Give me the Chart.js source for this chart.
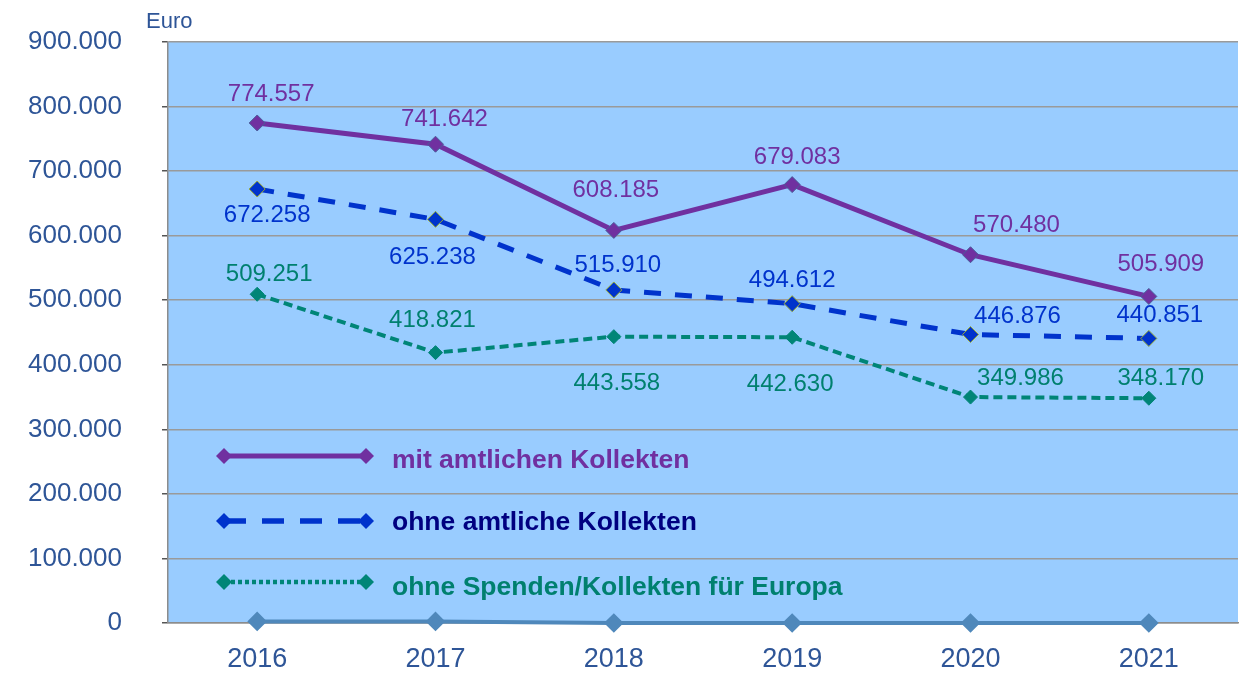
<!DOCTYPE html>
<html>
<head>
<meta charset="utf-8">
<script src="https://cdn.jsdelivr.net/npm/chart.js@4/dist/chart.umd.min.js"></script>
<style>
  html, body { margin: 0; padding: 0; background: #fff; }
  #wrap { width: 1249px; height: 673px; }
</style>
</head>
<body>
<div id="wrap"><canvas id="kollektenChart" width="1249" height="673"></canvas></div>
<script>
// values
const years = ['2016', '2017', '2018', '2019', '2020', '2021'];
const mitAmtlichen = [774557, 741642, 608185, 679083, 570480, 505909];
const ohneAmtliche = [672258, 625238, 515910, 494612, 446876, 440851];
const ohneEuropa = [509251, 418821, 443558, 442630, 349986, 348170];
const baseline = [2500, 2500, 0, 0, 0, 0];
const yTicks = [0, 100000, 200000, 300000, 400000, 500000, 600000, 700000, 800000, 900000];

const tickBlue = '#2E5597';

// 774557 -> "774.557"
const fmt = (v) => String(v).replace(/\B(?=(\d{3})+(?!\d))/g, '.');

// where each value label sits relative to its point [dx, dy]
const purpleLabelPos = [[14, -29], [9, -25], [2, -40], [5, -27], [46, -29], [12, -32]];
const blueLabelPos = [[10, 26], [-3, 38], [4, -25], [0, -23], [47, -18], [11, -23]];
const tealLabelPos = [[12, -20], [-3, -32], [3, 47], [-2, 47], [50, -19], [12, -20]];

const plotBg = {
  id: 'plotBg',
  beforeDraw(chart) {
    const { ctx, chartArea: a } = chart;
    ctx.save();
    ctx.fillStyle = '#99CCFF';
    ctx.fillRect(a.left, a.top, a.right - a.left, a.bottom - a.top);
    ctx.restore();
  },
};

const valueLabels = {
  id: 'valueLabels',
  afterDatasetsDraw(chart) {
    const { ctx } = chart;
    ctx.save();
    ctx.font = '24px "Liberation Sans", Arial, sans-serif';
    ctx.textAlign = 'center';
    ctx.textBaseline = 'middle';
    chart.data.datasets.forEach((ds, i) => {
      if (!ds.labelPos) return;
      const meta = chart.getDatasetMeta(i);
      ctx.fillStyle = ds.labelColor;
      meta.data.forEach((pt, j) => {
        const [dx, dy] = ds.labelPos[j];
        ctx.fillText(fmt(ds.data[j]), pt.x + dx, pt.y + dy);
      });
    });
    ctx.restore();
  },
};

// legend sits inside the plot, lower left
const innerLegend = {
  id: 'innerLegend',
  afterDatasetsDraw(chart) {
    const { ctx } = chart;
    const items = [
      { ds: 0, y: 456, ty: 461, dash: [], width: 5, text: '#7030A0' },
      { ds: 1, y: 521, ty: 523, dash: [22, 16], width: 5.5, text: '#000080' },
      { ds: 2, y: 582, ty: 588, dash: [4, 3], width: 4.5, text: '#00806F' },
    ];
    ctx.save();
    items.forEach((it) => {
      const ds = chart.data.datasets[it.ds];
      ctx.strokeStyle = ds.borderColor;
      ctx.lineWidth = it.width;
      ctx.setLineDash(it.dash);
      ctx.beginPath();
      ctx.moveTo(224, it.y);
      ctx.lineTo(366, it.y);
      ctx.stroke();
      ctx.setLineDash([]);
      [224, 366].forEach((x) => {
        ctx.fillStyle = ds.pointBackgroundColor;
        ctx.beginPath();
        ctx.moveTo(x, it.y - 8);
        ctx.lineTo(x + 8, it.y);
        ctx.lineTo(x, it.y + 8);
        ctx.lineTo(x - 8, it.y);
        ctx.closePath();
        ctx.fill();
      });
      ctx.fillStyle = it.text;
      ctx.font = 'bold 26.5px "Liberation Sans", Arial, sans-serif';
      ctx.textAlign = 'left';
      ctx.textBaseline = 'middle';
      ctx.fillText(ds.label, 392, it.ty);
    });
    ctx.restore();
  },
};

const unitLabel = {
  id: 'unitLabel',
  afterDraw(chart) {
    const { ctx } = chart;
    ctx.save();
    ctx.fillStyle = tickBlue;
    ctx.font = '22px "Liberation Sans", Arial, sans-serif';
    ctx.textAlign = 'left';
    ctx.textBaseline = 'middle';
    ctx.fillText('Euro', 146, 22);
    ctx.restore();
  },
};

const ctx = document.getElementById('kollektenChart').getContext('2d');
new Chart(ctx, {
  type: 'line',
  data: {
    labels: years,
    datasets: [
      {
        label: 'mit amtlichen Kollekten',
        data: mitAmtlichen,
        borderColor: '#7030A0',
        borderWidth: 5,
        pointStyle: 'rectRot',
        pointRadius: 8,
        pointBackgroundColor: '#7030A0',
        pointBorderColor: '#4A5E9A',
        pointBorderWidth: 1,
        labelColor: '#7030A0',
        labelPos: purpleLabelPos,
        clip: false,
        order: 1,
      },
      {
        label: 'ohne amtliche Kollekten',
        data: ohneAmtliche,
        borderColor: '#0033CC',
        borderWidth: 5,
        borderDash: [17, 14],
        pointStyle: 'rectRot',
        pointRadius: 8,
        pointBackgroundColor: '#0033CC',
        pointBorderColor: '#99AA33',
        pointBorderWidth: 1,
        labelColor: '#0033CC',
        labelPos: blueLabelPos,
        clip: false,
        order: 2,
      },
      {
        label: 'ohne Spenden/Kollekten für Europa',
        data: ohneEuropa,
        borderColor: '#008577',
        borderWidth: 4,
        borderDash: [9, 5],
        pointStyle: 'rectRot',
        pointRadius: 7,
        pointBackgroundColor: '#008577',
        pointBorderColor: '#008577',
        pointBorderWidth: 1,
        labelColor: '#00806F',
        labelPos: tealLabelPos,
        clip: false,
        order: 3,
      },
      {
        label: '',
        data: baseline,
        borderColor: '#4F88BB',
        borderWidth: 4,
        pointStyle: 'rectRot',
        pointRadius: 7,
        pointBackgroundColor: '#4F88BB',
        pointBorderColor: '#4F88BB',
        clip: false,
        order: 4,
      },
    ],
  },
  options: {
    responsive: false,
    animation: false,
    layout: { padding: { left: 0, top: 42, right: 6, bottom: 0 } },
    plugins: {
      legend: { display: false },
      tooltip: { enabled: false },
    },
    scales: {
      x: {
        offset: true,
        grid: { display: false, drawTicks: false },
        border: { display: true, color: '#8C8C8C', width: 1.5 },
        ticks: {
          color: tickBlue,
          padding: 20,
          font: { size: 27, family: '"Liberation Sans", Arial, sans-serif' },
        },
        afterFit(scale) {
          scale.height = 50;
        },
      },
      y: {
        min: 0,
        max: 900000,
        afterBuildTicks(scale) {
          scale.ticks = yTicks.map((v) => ({ value: v }));
        },
        grid: {
          color: '#9A9A9A',
          lineWidth: 1.5,
          drawTicks: true,
          tickLength: 6,
          tickColor: '#555555',
        },
        border: { display: true, color: '#8C8C8C', width: 1.5 },
        ticks: {
          color: tickBlue,
          padding: 40,
          font: { size: 26, family: '"Liberation Sans", Arial, sans-serif' },
          callback: (v) => fmt(v),
        },
        afterFit(scale) {
          // fixed axis width, no extra label padding above/below
          scale.width = 168;
          scale.paddingTop = 0;
          scale.paddingBottom = 0;
        },
      },
    },
  },
  plugins: [plotBg, valueLabels, innerLegend, unitLabel],
});
</script>
</body>
</html>
